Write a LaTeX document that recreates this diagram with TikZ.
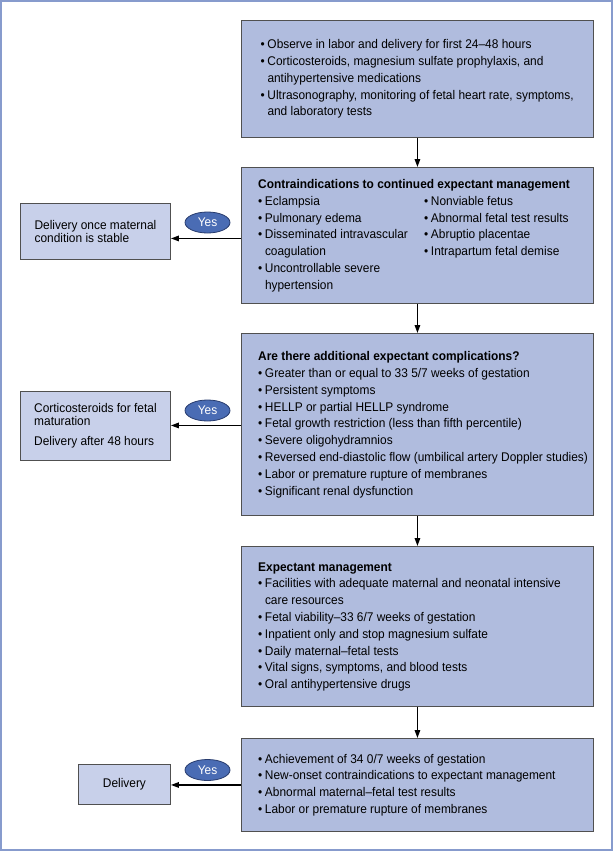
\documentclass[tikz,border=0pt]{standalone}
\usepackage{fontspec}
\setmainfont{Liberation Sans}[FakeStretch=0.945]
\usetikzlibrary{arrows.meta,shapes.geometric}
\definecolor{mainfill}{RGB}{176,188,222}
\definecolor{sidefill}{RGB}{200,208,234}
\definecolor{yesfill}{RGB}{74,108,180}
\definecolor{yesline}{RGB}{40,60,110}
\definecolor{boxline}{RGB}{80,80,80}
\definecolor{framecol}{RGB}{135,155,205}
\newlength{\bulw}\setlength{\bulw}{6.8bp}
\newcommand{\bi}{\makebox[\bulw][l]{\textbullet}}
\newcommand{\ci}{\hspace*{\bulw}}
\newcommand{\lcol}[1]{\makebox[166bp][l]{#1}}
\begin{document}
\begin{tikzpicture}[x=1bp,y=-1bp,
  mainbox/.style={draw=boxline, fill=mainfill, line width=0.9bp, minimum width=352bp, inner sep=0pt, anchor=north west},
  sidebox/.style={draw=boxline, fill=sidefill, line width=0.9bp, inner sep=0pt, anchor=north west, align=left, font=\fontsize{12.6bp}{13.5bp}\selectfont},
  txt/.style={inner sep=0pt, anchor=west, font=\fontsize{12.6bp}{16.8bp}\selectfont},
  yes/.style={ellipse, draw=yesline, line width=0.8bp, fill=yesfill, text=white, minimum width=45bp, minimum height=21bp, inner sep=0pt, font=\fontsize{12.6bp}{14bp}\selectfont},
  arr/.style={line width=1.4bp, -{Triangle[length=8bp,width=5.5bp]}}]
\useasboundingbox (0,0) rectangle (613,851);
\draw[framecol, line width=1.5bp] (1,1) rectangle (612,850);

% main boxes
\node[mainbox, minimum height=117bp] (b1) at (241,20) {};
\node[mainbox, minimum height=136bp] (b2) at (241,167) {};
\node[mainbox, minimum height=182bp] (b3) at (241,333) {};
\node[mainbox, minimum height=160bp] (b4) at (241,546) {};
\node[mainbox, minimum height=93bp] (b5) at (241,738) {};

% side boxes
\node[sidebox, minimum width=150bp, minimum height=56bp] (l1) at (20,203) {Delivery once maternal\\condition is stable};
\node[sidebox, minimum width=150bp, minimum height=69bp] (l2) at (20,391) {Corticosteroids for fetal\\maturation\\[6.5bp]Delivery after 48 hours};
\node[sidebox, minimum width=92bp, minimum height=40bp] (l3) at (78,764) {Delivery};

% texts
\node[txt] (b1t) at ([xshift=19.5bp]b1.west) {\begin{tabular}{@{}l@{}}
\bi Observe in labor and delivery for first 24–48 hours\\
\bi Corticosteroids, magnesium sulfate prophylaxis, and\\
\ci antihypertensive medications\\
\bi Ultrasonography, monitoring of fetal heart rate, symptoms,\\
\ci and laboratory tests
\end{tabular}};

\node[txt] (b2t) at ([xshift=17bp]b2.west) {\begin{tabular}{@{}l@{}l@{}}
\multicolumn{2}{@{}l@{}}{\bfseries Contraindications to continued expectant management}\\
\lcol{\bi Eclampsia} & \bi Nonviable fetus\\
\lcol{\bi Pulmonary edema} & \bi Abnormal fetal test results\\
\lcol{\bi Disseminated intravascular} & \bi Abruptio placentae\\
\lcol{\ci coagulation} & \bi Intrapartum fetal demise\\
\lcol{\bi Uncontrollable severe} & \\
\lcol{\ci hypertension} &
\end{tabular}};

\node[txt] (b3t) at ([xshift=17bp]b3.west) {\begin{tabular}{@{}l@{}}
\bfseries Are there additional expectant complications?\\
\bi Greater than or equal to 33 5/7 weeks of gestation\\
\bi Persistent symptoms\\
\bi HELLP or partial HELLP syndrome\\
\bi Fetal growth restriction (less than fifth percentile)\\
\bi Severe oligohydramnios\\
\bi Reversed end-diastolic flow (umbilical artery Doppler studies)\\
\bi Labor or premature rupture of membranes\\
\bi Significant renal dysfunction
\end{tabular}};

\node[txt] (b4t) at ([xshift=17bp]b4.west) {\begin{tabular}{@{}l@{}}
\bfseries Expectant management\\
\bi Facilities with adequate maternal and neonatal intensive\\
\ci care resources\\
\bi Fetal viability–33 6/7 weeks of gestation\\
\bi Inpatient only and stop magnesium sulfate\\
\bi Daily maternal–fetal tests\\
\bi Vital signs, symptoms, and blood tests\\
\bi Oral antihypertensive drugs
\end{tabular}};

\node[txt] (b5t) at ([xshift=17bp]b5.west) {\begin{tabular}{@{}l@{}}
\bi Achievement of 34 0/7 weeks of gestation\\
\bi New-onset contraindications to expectant management\\
\bi Abnormal maternal–fetal test results\\
\bi Labor or premature rupture of membranes
\end{tabular}};

% yes ellipses
\node[yes] (y1) at (207.5,222.5) {Yes};
\node[yes] (y2) at (207.5,410.5) {Yes};
\node[yes] (y3) at (207.5,770) {Yes};

% arrows
\draw[arr] (b1.south) -- (b2.north);
\draw[arr] (b2.south) -- (b3.north);
\draw[arr] (b3.south) -- (b4.north);
\draw[arr] (b4.south) -- (b5.north);
\coordinate (a1) at ([yshift=-3bp]b2.west);
\coordinate (a2) at ([yshift=-1bp]b3.west);
\coordinate (a3) at (b5.west);
\draw[arr] (a1) -- (a1 -| l1.east);
\draw[arr] (a2) -- (a2 -| l2.east);
\draw[arr] (a3) -- (a3 -| l3.east);
\end{tikzpicture}
\end{document}
